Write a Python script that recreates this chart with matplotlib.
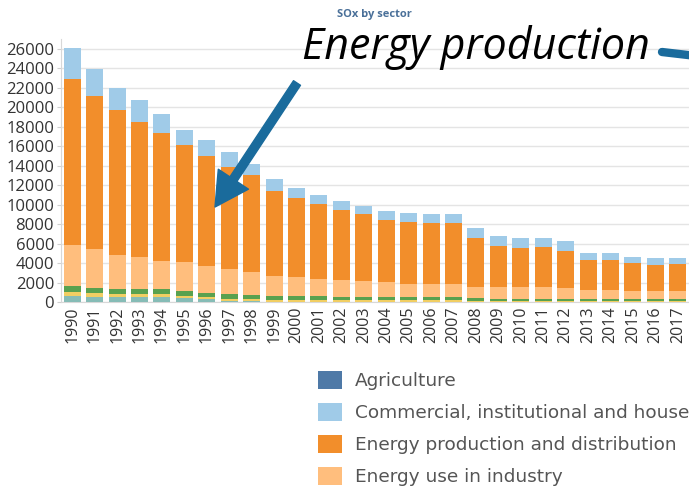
import matplotlib.pyplot as plt
import numpy as np
from matplotlib.patches import ArrowStyle

# Datos (toneladas SOx por sector)
years = [str(y) for y in range(1990, 2018)]

agriculture = [0] * 28
commercial = [3200, 2800, 2250, 2200, 1900, 1600, 1600, 1500, 1200, 1200,
              1000, 900, 1000, 900, 950, 900, 900, 950, 1020, 1050,
              1050, 1000, 1100, 790, 700, 690, 690, 680]
energy_prod = [17040, 15700, 14870, 13900, 13150, 12020, 11270, 10500, 9950, 8730,
               8100, 7770, 7140, 6800, 6340, 6330, 6300, 6250, 5050, 4250,
               4000, 4100, 3750, 3080, 3100, 2790, 2650, 2690]
industry = [4260, 4000, 3480, 3250, 2900, 2980, 2780, 2600, 2290, 2020,
            1960, 1690, 1730, 1670, 1530, 1340, 1320, 1370, 1080, 1150,
            1150, 1150, 1100, 860, 860, 840, 860, 860]
industrial_proc = [600, 500, 500, 500, 500, 450, 400, 450, 450, 400,
                   400, 400, 350, 350, 350, 350, 350, 300, 300, 250,
                   250, 250, 250, 250, 250, 250, 230, 230]
non_road = [400, 350, 300, 300, 300, 250, 250, 250, 250, 200,
            200, 200, 150, 150, 150, 150, 150, 150, 100, 80,
            80, 80, 80, 70, 70, 70, 70, 70]
transport = [600, 550, 550, 550, 550, 400, 300, 100, 60, 50,
             40, 40, 30, 30, 30, 30, 30, 30, 20, 20,
             20, 20, 20, 20, 20, 20, 20, 20]

yticks = list(range(0, 26001, 2000))

# Orden de apilado: de abajo hacia arriba
series = [
    ("Transport", transport, "#86bcb6"),
    ("Other", non_road, "#f1ce63"),
    ("Industrial processes", industrial_proc, "#59a14f"),
    ("Energy use in industry", industry, "#ffbe7d"),
    ("Energy production and distribution", energy_prod, "#f28e2b"),
    ("Commercial, institutional and house", commercial, "#a0cbe8"),
    ("Agriculture", agriculture, "#4e79a7"),
]

fig = plt.figure(figsize=(6.89, 4.88), dpi=100)
ax = fig.add_axes([61 / 689, 1 - 302 / 488, 628 / 689, 263 / 488])

x = np.arange(len(years))
bottom = np.zeros(len(years))
handles = {}
for name, vals, color in series:
    bars = ax.bar(x, vals, bottom=bottom, width=0.76, color=color, zorder=3)
    handles[name] = bars
    bottom += np.array(vals)

ax.set_xlim(-0.5, len(years) - 0.5)
ax.set_ylim(0, 27000)
ax.set_yticks(yticks)
ax.set_yticklabels([str(t) for t in yticks], fontsize=12, color="#333333",
                   family="Open Sans")
ax.set_xticks(x)
ax.set_xticklabels(years, rotation=90, fontsize=11.5, color="#333333",
                   family="Open Sans")
ax.tick_params(axis="x", length=0, pad=3)
ax.tick_params(axis="y", length=3, color="#d0d0d0", pad=2)
ax.grid(axis="y", color="#e4e4e4", lw=1, zorder=0)
for s in ["top", "right"]:
    ax.spines[s].set_visible(False)
ax.spines["left"].set_color("#d8d8d8")
ax.spines["bottom"].set_color("#d8d8d8")

# Título
fig.text(374 / 689, 1 - 14 / 488, "SOx by sector", ha="center", va="center",
         fontsize=8, fontweight="bold", color="#4a7099", family="Open Sans")

# Leyenda (solo las cuatro entradas visibles; la última palabra queda cortada como en el original)
leg_names = ["Agriculture", "Commercial, institutional and house",
             "Energy production and distribution", "Energy use in industry"]
leg = fig.legend([handles[n] for n in leg_names], leg_names,
                 loc="upper left", bbox_to_anchor=(318 / 689, 1 - 371 / 488),
                 frameon=False, prop={"family": "DejaVu Sans", "size": 13.3},
                 handlelength=1.3, handleheight=1.15,
                 handletextpad=0.68, labelspacing=0.68, borderaxespad=0,
                 borderpad=0)
for t in leg.get_texts():
    t.set_color("#555555")

# Anotación
arrow_col = "#1a6b9c"
fig.text(476 / 689, 1 - 48 / 488, "Energy production", ha="center", va="center",
         fontsize=31, style="italic", color="black", family="Open Sans")
ax.annotate("", xy=(215 / 689, 1 - 207 / 488), xytext=(297 / 689, 1 - 83 / 488),
            xycoords="figure fraction", textcoords="figure fraction",
            arrowprops=dict(arrowstyle=ArrowStyle.Simple(head_length=1.2, head_width=1.3,
                                                         tail_width=0.3),
                            mutation_scale=20, color=arrow_col, shrinkA=0, shrinkB=0),
            annotation_clip=False)
ax.annotate("", xy=(705 / 689, 1 - 57 / 488), xytext=(662 / 689, 1 - 52 / 488),
            xycoords="figure fraction", textcoords="figure fraction",
            arrowprops=dict(arrowstyle="-", lw=6, color=arrow_col, shrinkA=0, shrinkB=0),
            annotation_clip=False)

fig.savefig("out.png", dpi=100)
